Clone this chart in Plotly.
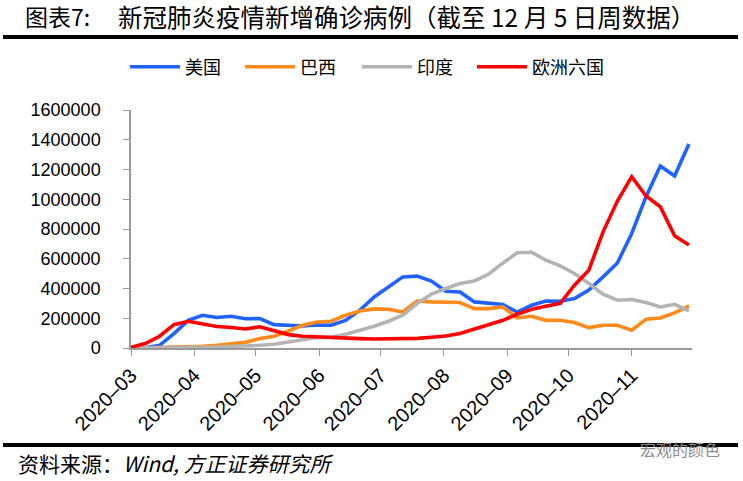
import plotly.graph_objects as go
import pandas as pd

# weekly dates
dates = pd.date_range("2020-03-01", periods=40, freq="7D")

usa = [0, 2000, 18000, 97000, 186000, 220000, 205000, 213000, 197000, 198000,
       157000, 153000, 148000, 155000, 153000, 186000, 254000, 343000, 411000, 478000,
       483000, 450000, 382000, 377000, 310000, 299000, 292000, 242000, 288000, 316000,
       314000, 333000, 389000, 478000, 572000, 770000, 1017000, 1224000, 1156000, 1372000]
brazil = [0, 1000, 2000, 4000, 7000, 11000, 18000, 25000, 38000, 63000,
          79000, 114000, 153000, 175000, 180000, 220000, 249000, 263000, 261000, 242000,
          316000, 310000, 306000, 306000, 265000, 265000, 276000, 202000, 213000, 186000,
          186000, 171000, 137000, 153000, 153000, 119000, 193000, 202000, 236000, 283000]
india = [0, 0, 1000, 2000, 3000, 5000, 7000, 9000, 12000, 18000,
         25000, 38000, 52000, 70000, 74000, 92000, 119000, 146000, 180000, 220000,
         299000, 362000, 400000, 434000, 451000, 496000, 572000, 640000, 644000, 590000,
         552000, 501000, 434000, 362000, 321000, 326000, 306000, 276000, 294000, 249000]
europe6 = [5000, 30000, 79000, 157000, 180000, 160000, 145000, 138000, 128000, 143000,
           116000, 90000, 79000, 74000, 74000, 70000, 63000, 61000, 61000, 61000,
           65000, 72000, 81000, 97000, 126000, 157000, 186000, 227000, 260000, 280000,
           300000, 422000, 523000, 781000, 988000, 1152000, 1022000, 950000, 754000, 692000]

series_names = ["美国", "巴西", "印度", "欧洲六国"]
series_values = [usa, brazil, india, europe6]
colors = ["#1F62FF", "#FF8A1C", "#B4B4B4", "#FF0000"]

y_ticks = [0, 200000, 400000, 600000, 800000, 1000000, 1200000, 1400000, 1600000]

title_prefix = "图表7:"
title_main = "新冠肺炎疫情新增确诊病例（截至 12 月 5 日周数据）"
source_text = "资料来源：<i>Wind, 方正证券研究所</i>"
watermark = "宏观的颜色"

W, H = 743, 481
L, R, T, B = 131, 692, 110, 348


def px(x):
    return (x - L) / (R - L)


def py(y):
    return (B - y) / (B - T)


cjk = "Noto Sans CJK SC"
legend_ids = ["legend", "legend2", "legend3", "legend4"]
legend_x = [125, 240, 357, 472]

fig = go.Figure()
for name, vals, c, lid in zip(series_names, series_values, colors, legend_ids):
    fig.add_trace(go.Scatter(x=dates, y=vals, name=name, mode="lines",
                             line=dict(color=c, width=3.6), legend=lid))

legend_layout = {}
for lid, lx in zip(legend_ids, legend_x):
    legend_layout[lid] = dict(orientation="h", x=px(lx), xanchor="left", y=py(67),
                              yanchor="middle", itemwidth=50,
                              font=dict(family=cjk, size=18, color="black"),
                              bgcolor="rgba(0,0,0,0)")

fig.update_layout(
    width=W, height=H,
    margin=dict(l=L, r=W - R, t=T, b=H - B, pad=0, autoexpand=False),
    paper_bgcolor="white", plot_bgcolor="white",
    showlegend=True,
    xaxis=dict(type="date", range=["2020-03-01", "2020-11-30 12:00"],
               tick0="2020-03-01", dtick="M1", tickformat="%Y–%m",
               tickangle=-45, ticks="outside", ticklen=6, tickcolor="#9a9a9a",
               showline=True, linecolor="#9a9a9a", linewidth=1.5,
               showgrid=False, zeroline=False,
               tickfont=dict(family="Liberation Sans", size=20, color="black")),
    yaxis=dict(range=[0, 1600000], tickvals=y_ticks, tickformat="d",
               ticks="outside", ticklen=6, tickcolor="#9a9a9a",
               showline=True, linecolor="#9a9a9a", linewidth=1.5,
               showgrid=False, zeroline=False, ticklabelstandoff=19,
               tickfont=dict(family="Liberation Sans", size=18, color="black")),
    **legend_layout,
)

# title and footer
fig.add_annotation(text=title_prefix, xref="paper", yref="paper", x=px(23), y=py(16),
                   xanchor="left", yanchor="middle", showarrow=False,
                   font=dict(family=cjk, size=23, color="black"))
fig.add_annotation(text=title_main, xref="paper", yref="paper", x=px(116), y=py(16),
                   xanchor="left", yanchor="middle", showarrow=False,
                   font=dict(family=cjk, size=24.5, color="black"))
fig.add_annotation(text=source_text, xref="paper", yref="paper", x=px(16), y=py(463),
                   xanchor="left", yanchor="middle", showarrow=False,
                   font=dict(family=cjk, size=21, color="black"))
fig.add_annotation(text=watermark, xref="paper", yref="paper", x=px(722), y=py(449),
                   xanchor="right", yanchor="middle", showarrow=False,
                   font=dict(family=cjk, size=16, color="#8c8c8c"))

# rules
fig.add_shape(type="line", xref="paper", yref="paper", x0=px(3), x1=px(738),
              y0=py(37), y1=py(37), line=dict(color="black", width=4))
fig.add_shape(type="line", xref="paper", yref="paper", x0=px(3), x1=px(738),
              y0=py(445), y1=py(445), line=dict(color="black", width=4))

fig.write_html("out.html", config={"displayModeBar": False},
               post_script="document.body.style.margin='0';")
